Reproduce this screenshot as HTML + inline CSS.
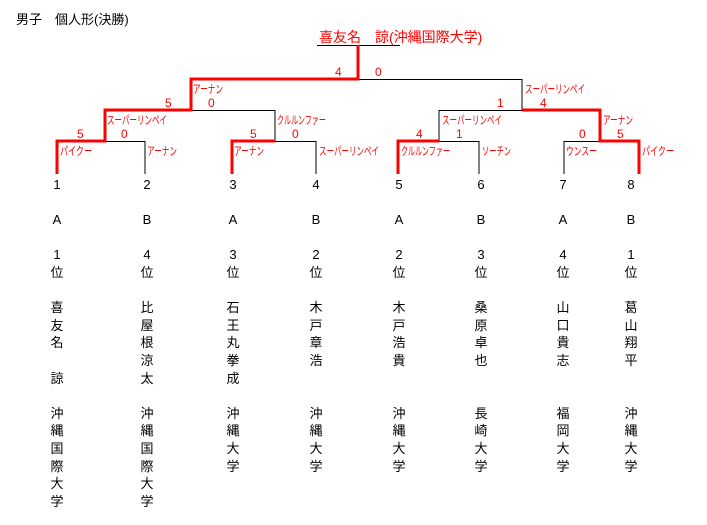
<!DOCTYPE html>
<html><head><meta charset="utf-8"><style>
body{margin:0;background:#fff;width:707px;height:525px;overflow:hidden}
svg{position:absolute;left:0;top:0}
.col{position:absolute;top:176px;width:20px;margin-left:-10px;text-align:center;font:13px/17.6px "Liberation Sans","Noto Sans CJK JP",sans-serif;color:#000}
</style></head><body>
<svg width="707" height="525" font-family="'Liberation Sans','Noto Sans CJK JP',sans-serif">
<text x="16" y="24" font-size="13">男子　個人形(決勝)</text>
<text x="319" y="42" font-size="14" fill="#f00">喜友名　諒(沖縄国際大学)</text>
<g stroke="#000" stroke-width="1" fill="none">
<line x1="317" y1="45.5" x2="400" y2="45.5"/>
<polyline points="358,79.5 522,79.5 522,110"/>
<polyline points="275,110 275,110.5 191,110.5"/>
<polyline points="522,110.5 439,110.5 439,141"/>
<polyline points="105,141.5 145,141.5 145,174"/>
<polyline points="275,110 275,141.5 316,141.5 316,174"/>
<polyline points="439,141.5 479,141.5 479,174"/>
<polyline points="600,141.5 564,141.5 564,174"/>
</g>
<g stroke="#f00" stroke-width="3" fill="none">
<polyline points="358,45 358,79 191,79 191,110 105,110 105,141 57,141 57,174"/>
<polyline points="275,141 232,141 232,174"/>
<polyline points="439,141 398,141 398,174"/>
<polyline points="522,110 600,110 600,141 639,141 639,174"/>
</g>
<g fill="#f00" font-size="12">
<text x="335" y="76">4</text><text x="375" y="76">0</text>
<text x="165" y="107">5</text><text x="208" y="107">0</text>
<text x="77" y="138">5</text><text x="121" y="138">0</text>
<text x="250" y="138">5</text><text x="292" y="138">0</text>
<text x="497" y="107">1</text><text x="540" y="107">4</text>
<text x="416" y="138">4</text><text x="456" y="138">1</text>
<text x="579" y="138">0</text><text x="617" y="138">5</text>
</g>
<g fill="#f00" font-size="11.5">
<text x="193" y="93" textLength="30" lengthAdjust="spacingAndGlyphs">アーナン</text>
<text x="107" y="124" textLength="60" lengthAdjust="spacingAndGlyphs">スーパーリンペイ</text>
<text x="277" y="124" textLength="49" lengthAdjust="spacingAndGlyphs">クルルンファー</text>
<text x="60" y="155" textLength="32" lengthAdjust="spacingAndGlyphs">パイクー</text>
<text x="147" y="155" textLength="30" lengthAdjust="spacingAndGlyphs">アーナン</text>
<text x="234" y="155" textLength="30" lengthAdjust="spacingAndGlyphs">アーナン</text>
<text x="319" y="155" textLength="60" lengthAdjust="spacingAndGlyphs">スーパーリンペイ</text>
<text x="525" y="93" textLength="60" lengthAdjust="spacingAndGlyphs">スーパーリンペイ</text>
<text x="442" y="124" textLength="60" lengthAdjust="spacingAndGlyphs">スーパーリンペイ</text>
<text x="603" y="124" textLength="30" lengthAdjust="spacingAndGlyphs">アーナン</text>
<text x="401" y="155" textLength="49" lengthAdjust="spacingAndGlyphs">クルルンファー</text>
<text x="482" y="155" textLength="29" lengthAdjust="spacingAndGlyphs">ソーチン</text>
<text x="566" y="155" textLength="31" lengthAdjust="spacingAndGlyphs">ウンスー</text>
<text x="642" y="155" textLength="32" lengthAdjust="spacingAndGlyphs">パイクー</text>
</g>
</svg>
<div class="col" style="left:57px">1<br><br>A<br><br>1<br>位<br><br>喜<br>友<br>名<br><br>諒<br><br>沖<br>縄<br>国<br>際<br>大<br>学</div>
<div class="col" style="left:147px">2<br><br>B<br><br>4<br>位<br><br>比<br>屋<br>根<br>涼<br>太<br><br>沖<br>縄<br>国<br>際<br>大<br>学</div>
<div class="col" style="left:233px">3<br><br>A<br><br>3<br>位<br><br>石<br>王<br>丸<br>拳<br>成<br><br>沖<br>縄<br>大<br>学</div>
<div class="col" style="left:316px">4<br><br>B<br><br>2<br>位<br><br>木<br>戸<br>章<br>浩<br><br><br>沖<br>縄<br>大<br>学</div>
<div class="col" style="left:399px">5<br><br>A<br><br>2<br>位<br><br>木<br>戸<br>浩<br>貴<br><br><br>沖<br>縄<br>大<br>学</div>
<div class="col" style="left:481px">6<br><br>B<br><br>3<br>位<br><br>桑<br>原<br>卓<br>也<br><br><br>長<br>崎<br>大<br>学</div>
<div class="col" style="left:563px">7<br><br>A<br><br>4<br>位<br><br>山<br>口<br>貴<br>志<br><br><br>福<br>岡<br>大<br>学</div>
<div class="col" style="left:631px">8<br><br>B<br><br>1<br>位<br><br>葛<br>山<br>翔<br>平<br><br><br>沖<br>縄<br>大<br>学</div>
</body></html>
